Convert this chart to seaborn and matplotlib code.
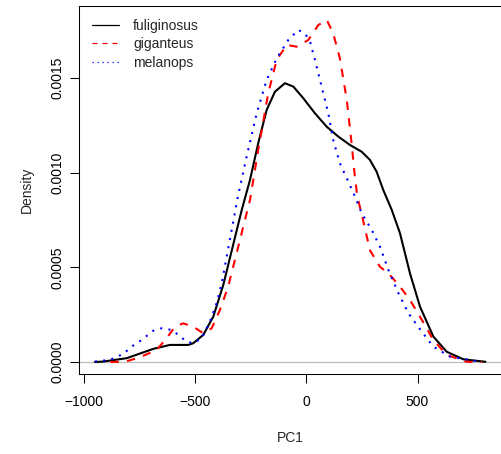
import numpy as np
import pandas as pd
import seaborn as sns
import matplotlib
matplotlib.use("Agg")
import matplotlib.pyplot as plt

# density curves (PC1 value, density)
fuliginosus_x = [-950, -914, -807, -688, -613, -530, -508, -463, -418, -373, -290, -253,
                 -216, -178, -141, -96, -58, -13, 39, 92, 144, 196, 249, 286, 316, 346,
                 384, 421, 466, 511, 571, 631, 706, 805]
fuliginosus_y = [0.0, 0.000002, 0.00002, 0.000069, 0.00009, 0.00009, 0.000099, 0.000143,
                 0.000239, 0.000407, 0.000803, 0.000961, 0.001155, 0.001331, 0.001427,
                 0.001472, 0.001454, 0.001392, 0.001313, 0.001242, 0.00119, 0.001146,
                 0.00111, 0.001067, 0.001005, 0.000908, 0.000803, 0.00068, 0.000468,
                 0.000292, 0.000134, 0.000054, 0.000014, 0.000001]

giganteus_x = [-880, -815, -748, -673, -628, -590, -553, -508, -463, -425, -388, -351,
               -253, -216, -171, -133, -88, -43, 9, 54, 92, 121, 151, 182, 204, 219, 230,
               249, 286, 331, 376, 421, 466, 511, 571, 631, 721, 790]
giganteus_y = [0.0, 0.000001, 0.000025, 0.000063, 0.000125, 0.000186, 0.000204, 0.000186,
               0.000152, 0.000178, 0.000275, 0.000398, 0.000855, 0.001119, 0.001419,
               0.001595, 0.001674, 0.001665, 0.0017, 0.001779, 0.001806, 0.001735,
               0.001603, 0.001383, 0.00115, 0.00097, 0.00087, 0.00078, 0.00059, 0.000503,
               0.000459, 0.000398, 0.000327, 0.000239, 0.000116, 0.000037, 0.000001, 0.0]

melanops_x = [-950, -883, -823, -785, -740, -688, -650, -605, -575, -538, -508, -470,
              -433, -403, -380, -306, -268, -223, -178, -133, -81, -36, -6, 17, 39, 69,
              99, 121, 151, 189, 219, 249, 294, 331, 369, 414, 459, 519, 571, 646, 781]
melanops_y = [0.000002, 0.000011, 0.000042, 0.000081, 0.000116, 0.000165, 0.000178,
              0.000169, 0.000143, 0.000107, 0.000099, 0.000125, 0.000213, 0.00031,
              0.000416, 0.000882, 0.001084, 0.001313, 0.001489, 0.001603, 0.0017,
              0.001753, 0.001735, 0.001691, 0.001595, 0.001454, 0.001313, 0.001172,
              0.001049, 0.000952, 0.000873, 0.000785, 0.000697, 0.000609, 0.000486,
              0.000363, 0.000257, 0.00016, 0.000081, 0.000028, 0.000001]

x_ticks = [-1000, -500, 0, 500]
y_ticks = [0.0, 0.0005, 0.001, 0.0015]
y_tick_labels = ["0.0000", "0.0005", "0.0010", "0.0015"]

sns.set_style("white")
plt.rcParams['font.family'] = ['Liberation Sans', 'DejaVu Sans']

fig = plt.figure(figsize=(5.01, 4.54), dpi=100)
ax = fig.add_axes([0.1583, 0.1756, 0.8457, 0.8105])

# zero line drawn first, in gray
ax.axhline(0, color='#BEBEBE', lw=0.9, zorder=1)

series = [
    ('fuliginosus', fuliginosus_x, fuliginosus_y, 'black', '-'),
    ('giganteus', giganteus_x, giganteus_y, 'red', (0, (4, 4))),
    ('melanops', melanops_x, melanops_y, 'blue', (0, (1, 3))),
]
for name, xs, ys, col, ls in series:
    df = pd.DataFrame({'PC1': xs, 'Density': ys})
    sns.lineplot(data=df, x='PC1', y='Density', ax=ax, color=col, lw=1.5,
                 linestyle=ls, label=name, sort=False, zorder=3)
for ln in ax.get_lines():
    ln.set_solid_joinstyle('round')
    ln.set_dash_joinstyle('round')

ax.set_xlim(-1020, 884)
ax.set_ylim(-0.000065, 0.001878)
ax.set_xticks(x_ticks)
ax.set_xticklabels([str(t).replace('-', '\u2212') for t in x_ticks])
ax.set_yticks(y_ticks)
ax.set_yticklabels(y_tick_labels, rotation=90, va='center')

for s in ax.spines.values():
    s.set_color('black')
    s.set_linewidth(0.75)
ax.tick_params(axis='both', direction='out', length=6.7, width=0.75, color='black',
               labelsize=10, labelcolor='black', bottom=True, left=True)
ax.tick_params(axis='x', pad=8)
ax.tick_params(axis='y', pad=4)

ax.set_xlabel('PC1', fontsize=10)
ax.set_ylabel('Density', fontsize=10)
ax.xaxis.set_label_coords(0.498, -0.173)
ax.yaxis.set_label_coords(-0.1236, 0.5)
ax.xaxis.label.set_va('center')
ax.yaxis.label.set_va('center')

leg = ax.legend(loc='upper left', bbox_to_anchor=(0.03, 0.966), frameon=False,
                borderpad=0, borderaxespad=0, handlelength=1.95, handletextpad=1.0,
                labelspacing=0.32, fontsize=10)
for h, col in zip(leg.get_lines(), ['black', 'red', 'blue']):
    h.set_linewidth(0.9)
    h.set_color(col)

fig.savefig('out.png', dpi=100)
